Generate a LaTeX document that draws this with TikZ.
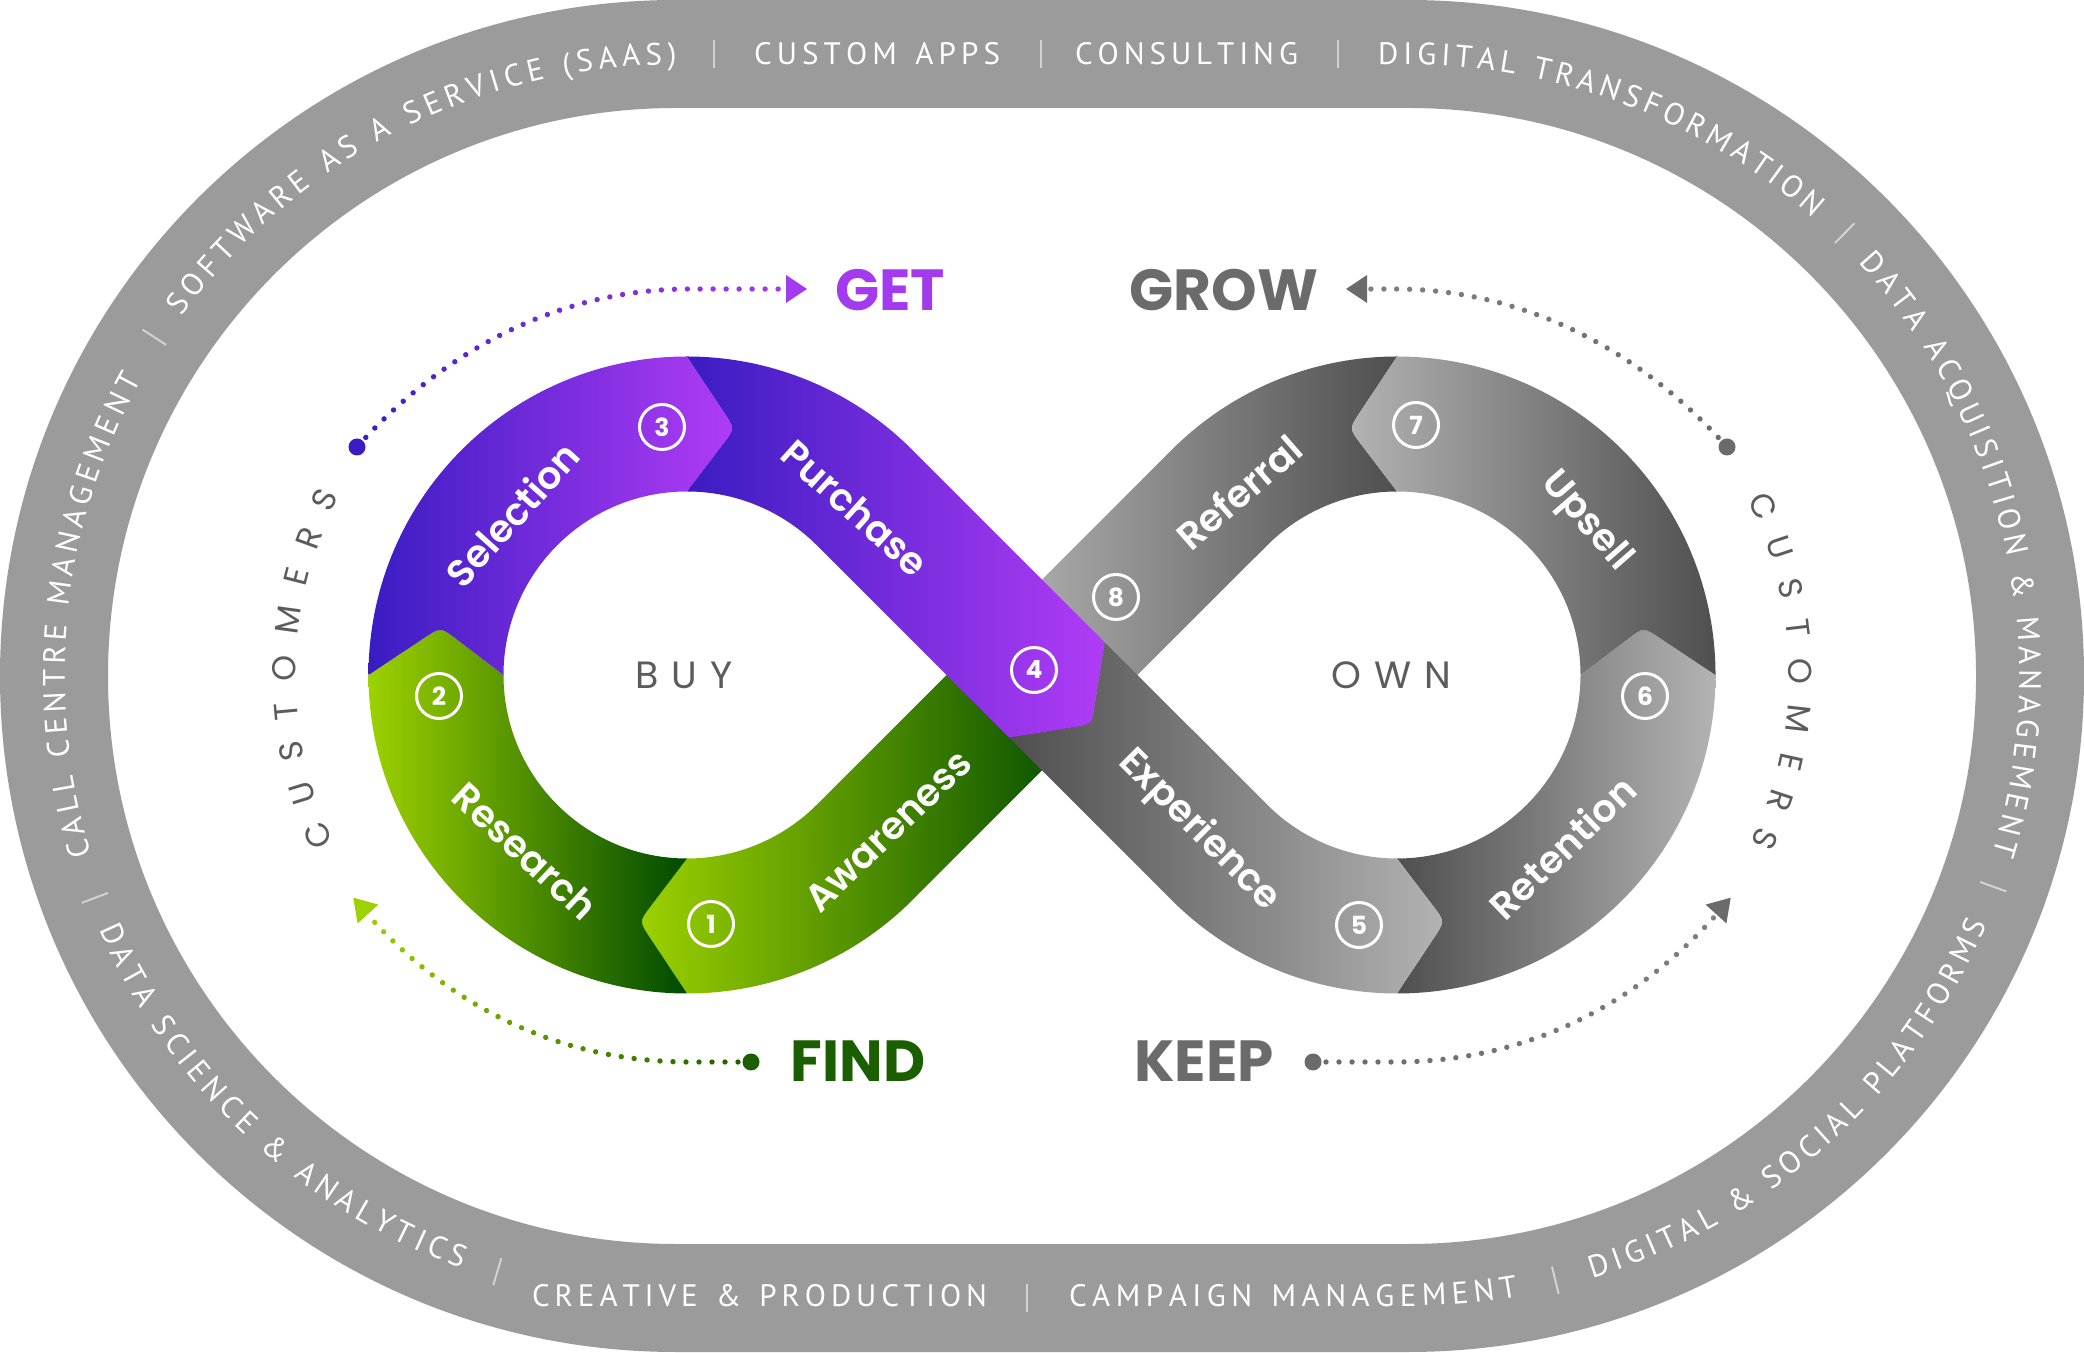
\documentclass[tikz,border=0pt]{standalone}
\usepackage{fontspec}
\newfontfamily\poppins{Poppins}
\newfontfamily\poppinssb{Poppins SemiBold}
\newfontfamily\ringfont{PT Sans}
\usetikzlibrary{calc,decorations.text,decorations.markings}
\definecolor{ringgray}{HTML}{9B9B9B}
\definecolor{sepgray}{HTML}{D2D2D2}
\definecolor{pD}{HTML}{3A1CC2}
\definecolor{pL}{HTML}{B13CF6}
\definecolor{gL}{HTML}{9DD100}
\definecolor{gD}{HTML}{004A00}
\definecolor{kL}{HTML}{B3B3B3}
\definecolor{kD}{HTML}{4F4F4F}
\definecolor{getc}{HTML}{A33AEE}
\definecolor{growc}{HTML}{6B6B6B}
\definecolor{growl}{HTML}{808080}
\definecolor{findc}{HTML}{1B5E00}
\definecolor{wordc}{HTML}{5C5C5C}
\def\Ro{318.5}
\def\Ri{183.5}
\def\Rm{251}
\def\eps{20pt}
\begin{document}
\begin{tikzpicture}[x=1pt,y=1pt,
  lbl/.style={text=white, font=\poppinssb\fontsize{38}{38}\selectfont, inner sep=0},
  numc/.style={circle, draw=white, line width=3, minimum size=45, inner sep=0, text=white, font=\poppins\bfseries\fontsize{25}{25}\selectfont},
  big/.style={font=\poppins\bfseries\fontsize{58}{58}\selectfont, inner sep=0},
  word/.style={text=wordc, font=\poppins\fontsize{38}{38}\selectfont, inner sep=0},
  ringtop/.style={decorate, decoration={text along path, text={|\ringfont\fontsize{31}{31}\selectfont|#1}, text align={fit to path}, text color=white, raise=-10.75pt}},
  ringbot/.style={decorate, decoration={text along path, text={|\ringfont\fontsize{31}{31}\selectfont|#1}, text align={fit to path}, text color=white, raise=-8pt}},
  custtxt/.style={decorate, decoration={text along path, text={|\poppins\fontsize{33}{33}\selectfont|CUSTOMERS}, text align={fit to path}, text color=wordc, raise=-12pt}},
  sep/.style={sepgray, line width=2},
  bigdot/.style={circle, minimum size=17, inner sep=0},
  dotline/.style 2 args={decorate, decoration={markings, mark=between positions 0 and 1 step 13pt with {\pgfmathtruncatemacro\pc{100*(\pgfkeysvalueof{/pgf/decoration/mark info/distance from start}/\pgfdecoratedpathlength)}\fill[#2!\pc!#1] (0,0) circle (2.7pt);}}}
]
\useasboundingbox (0,0) rectangle (2084,1352);
% ---------- outer ring ----------
\fill[ringgray, even odd rule] (676,1352) -- (1408,1352) arc[start angle=90,end angle=-90,radius=676] -- (676,0) arc[start angle=270,end angle=90,radius=676] -- cycle
  (676,1244) -- (1408,1244) arc[start angle=90,end angle=-90,radius=568] -- (676,108) arc[start angle=270,end angle=90,radius=568] -- cycle;
\coordinate (CL) at (676,676);
\coordinate (CR) at (1408,676);
\path[ringtop={CALL CENTRE MANAGEMENT}] ($(CL)+(197:622)$) arc[start angle=197,end angle=151,radius=622];
\path[ringtop={SOFTWARE AS A SERVICE (SAAS)}] ($(CL)+(144:622)$) arc[start angle=144,end angle=90,radius=622];
\path[ringtop={CUSTOM APPS}] (754,1298) -- (1000,1298);
\path[ringtop={CONSULTING}] (1075,1298) -- (1298,1298);
\path[ringtop={DIGITAL TRANSFORMATION}] (1378,1298) -- (1408,1298) arc[start angle=90,end angle=48.5,radius=622];
\path[ringtop={DATA ACQUISITION {\&} MANAGEMENT}] ($(CR)+(42.5:622)$) arc[start angle=42.5,end angle=-16.9,radius=622];
\path[ringbot={DATA SCIENCE {\&} ANALYTICS}] ($(CL)+(203.7:622)$) arc[start angle=203.7,end angle=250.1,radius=622];
\path[ringbot={CREATIVE {\&} PRODUCTION}] (532,54) -- (987,54);
\path[ringbot={CAMPAIGN MANAGEMENT}] (1069,54) -- (1408,54) arc[start angle=270,end angle=280.1,radius=622];
\path[ringbot={DIGITAL {\&} SOCIAL PLATFORMS}] ($(CR)+(287:622)$) arc[start angle=287,end angle=336.8,radius=622];
\foreach \a in {147,200.9,253.3} \draw[sep] ($(CL)+(\a:608)$) -- ($(CL)+(\a:636)$);
\foreach \a in {45.4,-19.8,283.7} \draw[sep] ($(CR)+(\a:608)$) -- ($(CR)+(\a:636)$);
\foreach \x in {714,1041,1338} \draw[sep] (\x,1284) -- (\x,1312);
\draw[sep] (1027,40) -- (1027,68);
% ---------- infinity geometry ----------
\coordinate (L) at (687,677);
\coordinate (R) at (1397,677);
\coordinate (M) at (1042,677);
\foreach \a in {45,90,180,270,315} {\coordinate (OL\a) at ($(L)+(\a:\Ro)$); \coordinate (IL\a) at ($(L)+(\a:\Ri)$);}
\foreach \a in {0,90,135,225,270} {\coordinate (OR\a) at ($(R)+(\a:\Ro)$); \coordinate (IR\a) at ($(R)+(\a:\Ri)$);}
\coordinate (T259) at ($(L)+(259:\Rm)$);
\coordinate (T169) at ($(L)+(169:\Rm)$);
\coordinate (T79) at ($(L)+(79:\Rm)$);
\coordinate (T281) at ($(R)+(281:\Rm)$);
\coordinate (T11) at ($(R)+(11:\Rm)$);
\coordinate (T101) at ($(R)+(101:\Rm)$);
\coordinate (A1) at ($(M)+(-45:67.5)$);
\coordinate (A2) at ($(M)+(135:67.5)$);
\coordinate (PU) at ($(M)+(-45:21)+(45:67.5)$);
\coordinate (PL) at ($(M)+(-45:21)+(225:67.5)$);
\coordinate (PT) at ($(M)+(-45:70)$);
\coordinate (jBLa) at ($(T259)!\eps!(OL270)$); \coordinate (jBLb) at ($(T259)!\eps!(IL270)$);
\coordinate (jLLa) at ($(T169)!\eps!(OL180)$); \coordinate (jLLb) at ($(T169)!\eps!(IL180)$);
\coordinate (jTLa) at ($(T79)!\eps!(OL90)$);   \coordinate (jTLb) at ($(T79)!\eps!(IL90)$);
\coordinate (jXa) at ($(PT)!\eps!(PU)$);       \coordinate (jXb) at ($(PT)!\eps!(PL)$);
\coordinate (jBRa) at ($(T281)!\eps!(OR270)$); \coordinate (jBRb) at ($(T281)!\eps!(IR270)$);
\coordinate (jRRa) at ($(T11)!\eps!(OR0)$);    \coordinate (jRRb) at ($(T11)!\eps!(IR0)$);
\coordinate (jTRa) at ($(T101)!\eps!(OR90)$);  \coordinate (jTRb) at ($(T101)!\eps!(IR90)$);
% Awareness
\shade[left color=gL, right color=gD] (A1) -- (OL315) arc[start angle=315,end angle=270,radius=\Ro] -- (jBLa) .. controls (T259) .. (jBLb) -- (IL270) arc[start angle=270,end angle=315,radius=\Ri] -- (A2) -- cycle;
% Referral
\shade[left color=kL, right color=kD] (OR90) arc[start angle=90,end angle=135,radius=\Ro] -- (A2) -- (A1) -- (IR135) arc[start angle=135,end angle=90,radius=\Ri] -- (jTRb) .. controls (T101) .. (jTRa) -- cycle;
% Research
\shade[left color=gL, right color=gD] (OL270) arc[start angle=270,end angle=180,radius=\Ro] -- (jLLa) .. controls (T169) .. (jLLb) -- (IL180) arc[start angle=180,end angle=270,radius=\Ri] -- (jBLb) .. controls (T259) .. (jBLa) -- cycle;
% Selection
\shade[left color=pD, right color=pL] (OL180) arc[start angle=180,end angle=90,radius=\Ro] -- (jTLa) .. controls (T79) .. (jTLb) -- (IL90) arc[start angle=90,end angle=180,radius=\Ri] -- (jLLb) .. controls (T169) .. (jLLa) -- cycle;
% Retention
\shade[left color=kD, right color=kL] (OR270) arc[start angle=270,end angle=360,radius=\Ro] -- (jRRa) .. controls (T11) .. (jRRb) -- (IR0) arc[start angle=360,end angle=270,radius=\Ri] -- (jBRb) .. controls (T281) .. (jBRa) -- cycle;
% Upsell
\shade[left color=kL, right color=kD] (OR0) arc[start angle=0,end angle=90,radius=\Ro] -- (jTRa) .. controls (T101) .. (jTRb) -- (IR90) arc[start angle=90,end angle=0,radius=\Ri] -- (jRRb) .. controls (T11) .. (jRRa) -- cycle;
% Experience
\shade[left color=kD, right color=kL] (PU) -- (IR225) arc[start angle=225,end angle=270,radius=\Ri] -- (jBRb) .. controls (T281) .. (jBRa) -- (OR270) arc[start angle=270,end angle=225,radius=\Ro] -- (PL) -- (jXb) .. controls (PT) .. (jXa) -- cycle;
% Purchase
\shade[left color=pD, right color=pL] (OL90) arc[start angle=90,end angle=45,radius=\Ro] -- (PU) -- (jXa) .. controls (PT) .. (jXb) -- (PL) -- (IL45) arc[start angle=45,end angle=90,radius=\Ri] -- (jTLb) .. controls (T79) .. (jTLa) -- cycle;
% ---------- step labels ----------
\node[lbl, rotate=44] (tAwa) at (888,521) {Awareness};
\node[lbl, rotate=-43] (tRes) at (525,501) {Research};
\node[lbl, rotate=48] (tSel) at (512,838) {Selection};
\node[lbl, rotate=-42] (tPur) at (855,844) {Purchase};
\node[lbl, rotate=-45] (tExp) at (1199,521) {Experience};
\node[lbl, rotate=44] (tRet) at (1562,505) {Retention};
\node[lbl, rotate=-49] (tUps) at (1586,830) {Upsell};
\node[lbl, rotate=41] (tRef) at (1239,860) {Referral};
\node[numc] (n1) at (711,428) {1};
\node[numc] (n2) at (439,656) {2};
\node[numc] (n3) at (662,925) {3};
\node[numc] (n4) at (1034,682) {4};
\node[numc] (n5) at (1359,427) {5};
\node[numc] (n6) at (1645,656) {6};
\node[numc] (n7) at (1416,927) {7};
\node[numc] (n8) at (1116,755) {8};
\node[word] (buy) at (684,677) {B\hspace{13pt}U\hspace{13pt}Y};
\node[word] (own) at (1391,677) {O\hspace{13pt}W\hspace{13pt}N};
\path[custtxt] ($(L)+(205.3:403)$) arc[start angle=205.3,end angle=152.8,radius=403];
\path[custtxt] ($(R)+(26.6:404)$) arc[start angle=26.6,end angle=-25.4,radius=404];
% ---------- phase labels ----------
\node[big, text=getc] (get) at (890,1062) {GET};
\node[big, text=growc] (grow) at (1224,1062) {GROW};
\node[big, text=findc] (find) at (858,291) {FIND};
\node[big, text=growc] (keep) at (1204,291) {KEEP};
% ---------- dotted arrows ----------
\node[bigdot, fill=pD] (dGET) at (357,905) {};
\coordinate (eGET) at (786,1063);
\path[dotline={pD}{getc}] (dGET.center) .. controls (444,1002) and (560,1063) .. (690,1063) -- (eGET);
\fill[getc] (807,1063) -- (786,1077) -- (786,1049) -- cycle;
\node[bigdot, fill=growc] (dGROW) at (1727,905) {};
\coordinate (eGROW) at (1367,1063);
\path[dotline={growc}{growl}] (dGROW.center) .. controls (1640,1002) and (1524,1063) .. (1394,1063) -- (eGROW);
\fill[growc] (1346,1063) -- (1367,1077) -- (1367,1049) -- cycle;
\node[bigdot, fill=findc] (dFIND) at (751,290) {};
\coordinate (eFIND) at (368,437);
\path[dotline={findc}{gL}] (dFIND.center) -- (690,290) .. controls (560,290) and (450,345) .. (eFIND);
\fill[gL] (353.3,454.3) -- (378.4,447.4) -- (357.6,428.6) -- cycle;
\node[bigdot, fill=growc] (dKEEP) at (1313,290) {};
\coordinate (eKEEP) at (1716,437);
\path[dotline={growc}{growl}] (dKEEP.center) -- (1394,290) .. controls (1524,290) and (1634,345) .. (eKEEP);
\fill[growc] (1730.7,454.3) -- (1705.6,447.4) -- (1726.4,428.6) -- cycle;
\end{tikzpicture}
\end{document}
